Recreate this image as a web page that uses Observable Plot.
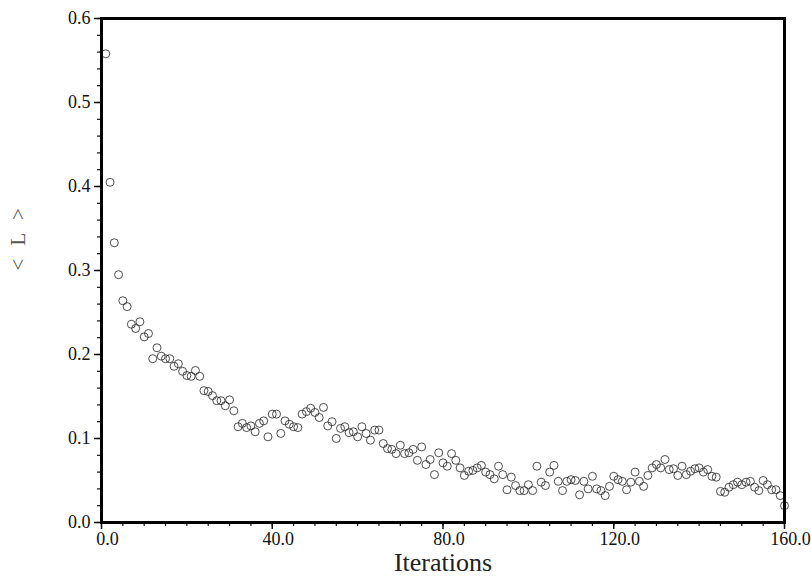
<!DOCTYPE html>
<html>
<head>
<meta charset="utf-8">
<script src="https://cdn.jsdelivr.net/npm/d3@7"></script>
<script src="https://cdn.jsdelivr.net/npm/@observablehq/plot@0.6"></script>
<style>
  html, body { margin: 0; padding: 0; background: #fff; }
  #chart svg { display: block; }
</style>
</head>
<body>
<div id="chart"></div>
<script>
// Mean <L> per iteration (iterations 1..160)
const lValues = [
  0.558, 0.405, 0.333, 0.295, 0.264, 0.257, 0.236, 0.231, 0.239, 0.221,
  0.225, 0.195, 0.208, 0.198, 0.195, 0.195, 0.186, 0.189, 0.180, 0.175,
  0.174, 0.181, 0.174, 0.157, 0.156, 0.151, 0.145, 0.145, 0.139, 0.146,
  0.133, 0.114, 0.118, 0.113, 0.115, 0.108, 0.118, 0.121, 0.102, 0.129,
  0.129, 0.106, 0.121, 0.117, 0.114, 0.113, 0.129, 0.132, 0.136, 0.131,
  0.125, 0.137, 0.115, 0.120, 0.100, 0.112, 0.114, 0.107, 0.108, 0.102,
  0.114, 0.106, 0.098, 0.110, 0.110, 0.094, 0.088, 0.087, 0.082, 0.092,
  0.082, 0.083, 0.087, 0.074, 0.090, 0.069, 0.075, 0.057, 0.083, 0.071,
  0.067, 0.082, 0.074, 0.065, 0.056, 0.061, 0.062, 0.065, 0.068, 0.060,
  0.057, 0.052, 0.067, 0.057, 0.039, 0.054, 0.044, 0.038, 0.038, 0.045,
  0.038, 0.067, 0.048, 0.044, 0.060, 0.068, 0.049, 0.038, 0.049, 0.051,
  0.050, 0.033, 0.049, 0.040, 0.055, 0.040, 0.038, 0.032, 0.043, 0.055,
  0.051, 0.049, 0.039, 0.048, 0.060, 0.049, 0.043, 0.056, 0.065, 0.069,
  0.065, 0.075, 0.063, 0.064, 0.056, 0.067, 0.057, 0.061, 0.064, 0.065,
  0.060, 0.063, 0.055, 0.054, 0.037, 0.036, 0.042, 0.045, 0.048, 0.045,
  0.048, 0.049, 0.042, 0.038, 0.050, 0.045, 0.039, 0.039, 0.032, 0.020
];
const firstIteration = 1;

const xMajorTicks = [0, 40, 80, 120, 160];
const xMinorTicks = [0,5,10,15,20,25,30,35,40,45,50,55,60,65,70,75,80,85,90,95,100,105,110,115,120,125,130,135,140,145,150,155,160];
const yMajorTicks = [0.0, 0.1, 0.2, 0.3, 0.4, 0.5, 0.6];
const yMinorTicks = [0,0.02,0.04,0.06,0.08,0.1,0.12,0.14,0.16,0.18,0.2,0.22,0.24,0.26,0.28,0.3,0.32,0.34,0.36,0.38,0.4,0.42,0.44,0.46,0.48,0.5,0.52,0.54,0.56,0.58,0.6];
const xTitle = "Iterations";
const yTitle = "< L >";

const data = lValues.map((v, i) => ({iteration: firstIteration + i, L: v}));
const font = "'Liberation Serif', 'DejaVu Serif', serif";

const chart = Plot.plot({
  width: 811,
  height: 581,
  marginLeft: 101,
  marginRight: 27,
  marginTop: 18,
  marginBottom: 59,
  style: {fontFamily: font, background: "#fff", color: "#111"},
  x: {domain: [0, 160]},
  y: {domain: [0, 0.6]},
  marks: [
    Plot.axisX({ticks: xMinorTicks, tickSize: 4, tickFormat: () => "", stroke: "#111", strokeWidth: 1.2, label: null}),
    Plot.axisX({ticks: xMajorTicks, tickSize: 7, tickFormat: () => "", stroke: "#111", strokeWidth: 1.5, label: null}),
    Plot.axisX({ticks: xMajorTicks, tickSize: 0, tickPadding: 10, dx: 6, tickFormat: d3.format(".1f"), fontSize: 18, fill: "#111", label: null}),
    Plot.axisY({ticks: yMinorTicks, tickSize: 4, tickFormat: () => "", stroke: "#111", strokeWidth: 1.2, label: null}),
    Plot.axisY({ticks: yMajorTicks, tickSize: 7, tickPadding: 4, tickFormat: d3.format(".1f"), stroke: "#111", strokeWidth: 1.5, fontSize: 18, fill: "#111", label: null}),
    Plot.dot(data, {x: "iteration", y: "L", r: 4, stroke: "#222", strokeWidth: 0.8, fill: "none"}),
    Plot.frame({stroke: "#000", strokeWidth: 3}),
    Plot.text([xTitle], {frameAnchor: "bottom", dy: 48, fontSize: 26, fill: "#222", fontFamily: font}),
    Plot.text([yTitle], {frameAnchor: "left", dx: -83, rotate: -90, fontSize: 21, fill: "#555", fontFamily: font})
  ]
});
d3.select(chart).selectAll("text")
  .filter(function() { return this.textContent === yTitle; })
  .attr("letter-spacing", "4px");
document.getElementById("chart").appendChild(chart);
</script>
</body>
</html>
